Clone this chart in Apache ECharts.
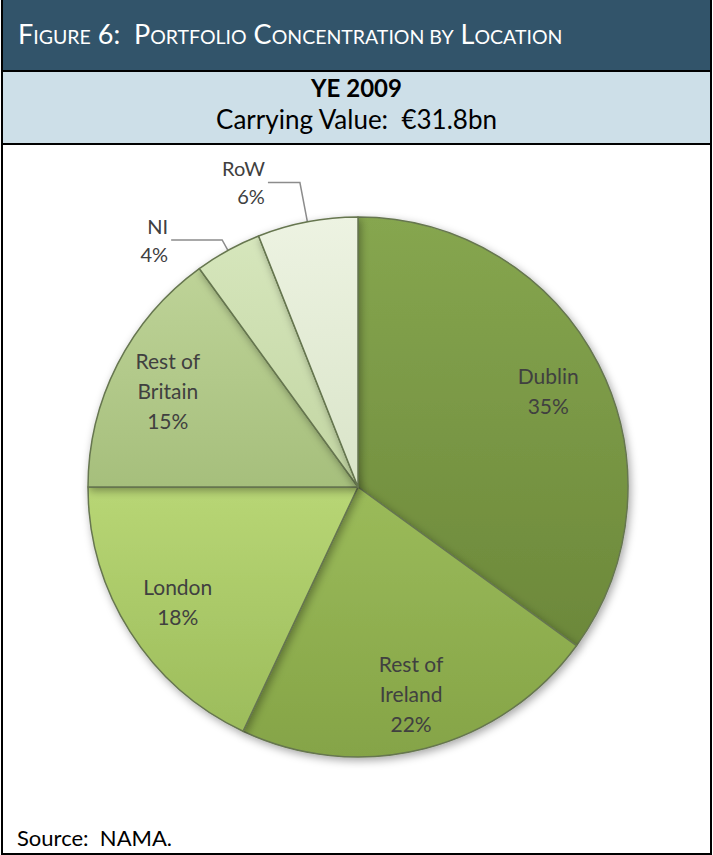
<!DOCTYPE html>
<html><head><meta charset="utf-8">
<script src="https://cdn.jsdelivr.net/npm/echarts@6/dist/echarts.min.js"></script>
<style>
html,body{margin:0;padding:0;background:#fff;width:713px;height:855px;overflow:hidden;}
.abs{position:absolute;box-sizing:border-box;}
#frame{left:1px;top:0;width:711px;height:855px;border-left:2px solid #000;border-right:2px solid #000;border-bottom:2px solid #000;}
#hdr{left:1px;top:0;width:711px;height:72px;background:#32546a;border-bottom:2px solid #000;border-left:2px solid #000;border-right:2px solid #000;}
#sub{left:1px;top:72px;width:711px;height:73px;background:#cddfe8;border-bottom:2px solid #000;border-left:2px solid #000;border-right:2px solid #000;}
#title{left:18px;top:19px;color:#fff;font-family:Lato,"Open Sans",sans-serif;white-space:nowrap;line-height:30px;font-size:27px;}
#title span{line-height:30px;}
#title .b{font-size:27px;}
#title .s{font-size:19.5px;}
#ye{left:0;top:75px;width:713px;text-align:center;font-family:Lato,"Open Sans",sans-serif;font-weight:bold;font-size:24px;color:#000;line-height:26px;white-space:nowrap;}
#cv{left:0;top:106px;width:713px;text-align:center;font-family:Lato,"Open Sans",sans-serif;font-size:26px;color:#000;line-height:26px;white-space:nowrap;}
#src{left:17px;top:825px;font-family:Lato,"Open Sans",sans-serif;font-size:22px;color:#000;line-height:26px;white-space:nowrap;}
#chart{left:0;top:0;width:713px;height:855px;}
</style>
</head><body>
<div id="frame" class="abs"></div>
<div id="hdr" class="abs"></div>
<div id="sub" class="abs"></div>
<div id="title" class="abs"><span class="b">F</span><span class="s">IGURE</span> <span class="b">6:&nbsp; P</span><span class="s">ORTFOLIO</span> <span class="b">C</span><span class="s">ONCENTRATION BY</span> <span class="b">L</span><span class="s">OCATION</span></div>
<div id="ye" class="abs">YE 2009</div>
<div id="cv" class="abs">Carrying Value:&nbsp; €31.8bn</div>
<div id="src" class="abs">Source:&nbsp; NAMA.</div>
<div id="chart" class="abs"></div>
<script>
const categories = ['Dublin', 'Rest of Ireland', 'London', 'Rest of Britain', 'NI', 'RoW'];
const labelTexts = ['Dublin', 'Rest of\nIreland', 'London', 'Rest of\nBritain', 'NI', 'RoW'];
const values = [35, 22, 18, 15, 4, 6];

const topColors = ['#86a64f', '#9bbb5a', '#b8d675', '#bed398', '#d6e6bc', '#edf3e2'];
const bottomColors = ['#6c883a', '#85a447', '#9cbc5b', '#a6bf7c', '#c2d5a2', '#d9e4c8'];
const insideLabel = [true, true, true, true, false, false];
const lineLen = [0, 0, 0, 0, 12, 40];
const lineLen2 = [0, 0, 0, 0, 51, 32];

const chart = echarts.init(document.getElementById('chart'), null, {renderer: 'svg'});
const fontFamily = 'Lato, "Open Sans", sans-serif';

const mainData = categories.map((c, i) => ({
  name: c,
  value: values[i],
  itemStyle: {
    color: new echarts.graphic.LinearGradient(0, 0, 0, 1, [
      {offset: 0, color: topColors[i]},
      {offset: 1, color: bottomColors[i]}
    ])
  },
  label: insideLabel[i] ? {show: false} : {show: true},
  labelLine: insideLabel[i] ? {show: false} : {show: true, length: lineLen[i], length2: lineLen2[i]}
}));

const overlayData = categories.map((c, i) => ({
  name: c,
  value: values[i],
  label: {show: insideLabel[i]}
}));

const fmt = p => labelTexts[p.dataIndex] + '\n' + Math.round(p.percent) + '%';

chart.setOption({
  animation: false,
  series: [
    {
      type: 'pie',
      center: [358, 487],
      radius: [0, 270],
      startAngle: 90,
      clockwise: true,
      avoidLabelOverlap: false,
      silent: true,
      data: mainData,
      itemStyle: {
        borderColor: '#66764f',
        borderWidth: 1.5,
        shadowBlur: 8,
        shadowOffsetX: 2,
        shadowOffsetY: 3,
        shadowColor: 'rgba(0,0,0,0.35)'
      },
      label: {
        position: 'outside',
        formatter: fmt,
        color: '#404040',
        fontFamily: fontFamily,
        fontSize: 20,
        lineHeight: 28,
        align: 'center',
        distanceToLabelLine: 3
      },
      labelLine: {
        lineStyle: {color: '#8c8c8c', width: 1.5},
        smooth: false
      }
    },
    {
      type: 'pie',
      center: [358, 487],
      radius: [151, 270],
      startAngle: 90,
      clockwise: true,
      avoidLabelOverlap: false,
      silent: true,
      data: overlayData,
      itemStyle: {color: 'rgba(0,0,0,0)', borderWidth: 0},
      label: {
        position: 'inside',
        formatter: fmt,
        color: '#404040',
        fontFamily: fontFamily,
        fontSize: 21,
        lineHeight: 30
      },
      labelLine: {show: false}
    }
  ]
});
</script>
</body></html>
